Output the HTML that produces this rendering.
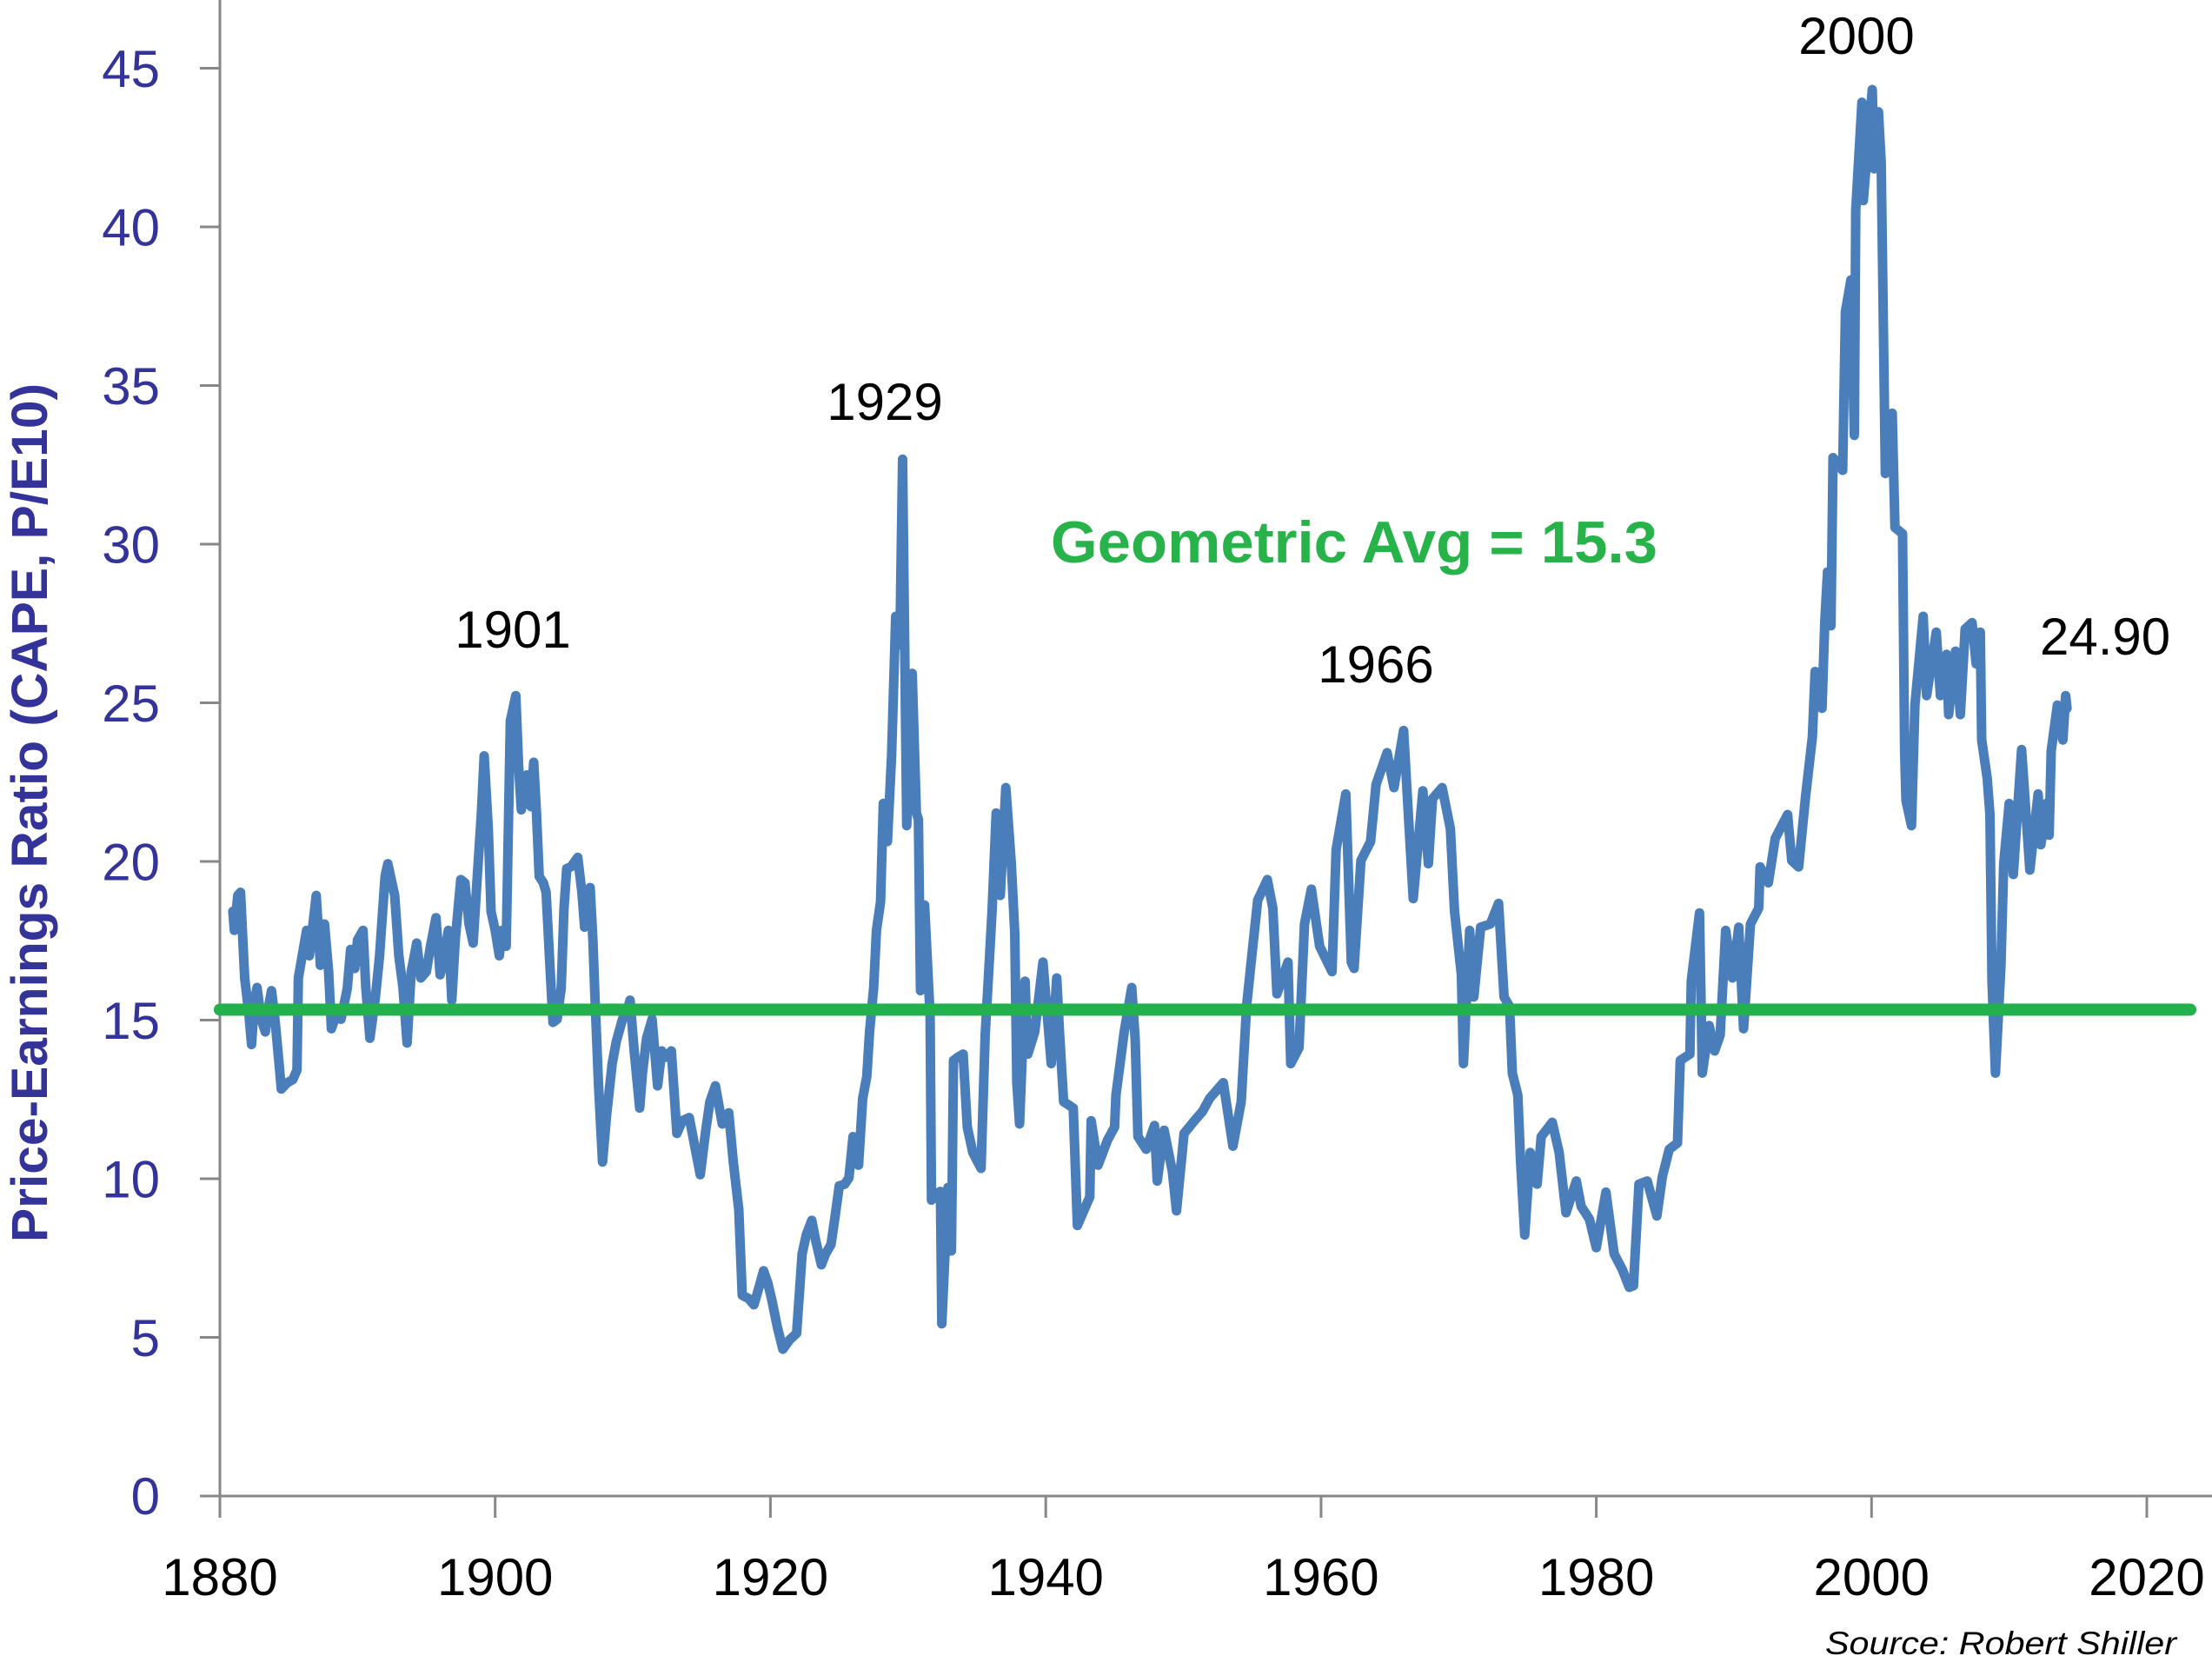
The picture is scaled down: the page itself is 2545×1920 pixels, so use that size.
<!DOCTYPE html>
<html>
<head>
<meta charset="utf-8">
<style>
  html, body { margin:0; padding:0; background:#ffffff; }
  svg { display:block; }
</style>
</head>
<body>
<svg xmlns="http://www.w3.org/2000/svg" width="2545" height="1920" viewBox="0 0 2545 1920">
  <rect x="0" y="0" width="2545" height="1920" fill="#ffffff"/>

  <!-- axes -->
  <g stroke="#878787" stroke-width="3" fill="none">
    <line x1="253" y1="0" x2="253" y2="1722"/>
    <line x1="230" y1="1721" x2="2545" y2="1721"/>
    <!-- y ticks -->
    <line x1="230" y1="1538.5" x2="253" y2="1538.5"/>
    <line x1="230" y1="1356" x2="253" y2="1356"/>
    <line x1="230" y1="1173.5" x2="253" y2="1173.5"/>
    <line x1="230" y1="991" x2="253" y2="991"/>
    <line x1="230" y1="808.5" x2="253" y2="808.5"/>
    <line x1="230" y1="626" x2="253" y2="626"/>
    <line x1="230" y1="443.5" x2="253" y2="443.5"/>
    <line x1="230" y1="261" x2="253" y2="261"/>
    <line x1="230" y1="78.5" x2="253" y2="78.5"/>
    <!-- x ticks -->
    <line x1="253" y1="1721" x2="253" y2="1746"/>
    <line x1="569.7" y1="1721" x2="569.7" y2="1746"/>
    <line x1="886.4" y1="1721" x2="886.4" y2="1746"/>
    <line x1="1203.2" y1="1721" x2="1203.2" y2="1746"/>
    <line x1="1519.9" y1="1721" x2="1519.9" y2="1746"/>
    <line x1="1836.6" y1="1721" x2="1836.6" y2="1746"/>
    <line x1="2153.3" y1="1721" x2="2153.3" y2="1746"/>
    <line x1="2470" y1="1721" x2="2470" y2="1746"/>
  </g>

  <!-- y tick labels -->
  <g font-family="'Liberation Sans', sans-serif" font-size="60" fill="#333399" text-anchor="end">
    <text x="184" y="1742">0</text>
    <text x="184" y="1560">5</text>
    <text x="184" y="1377.5">10</text>
    <text x="184" y="1195">15</text>
    <text x="184" y="1012.5">20</text>
    <text x="184" y="830">25</text>
    <text x="184" y="647.5">30</text>
    <text x="184" y="465">35</text>
    <text x="184" y="282.5">40</text>
    <text x="184" y="100">45</text>
  </g>

  <!-- x tick labels -->
  <g font-family="'Liberation Sans', sans-serif" font-size="60" fill="#000000" text-anchor="middle">
    <text x="253" y="1835">1880</text>
    <text x="569.7" y="1835">1900</text>
    <text x="886.4" y="1835">1920</text>
    <text x="1203.2" y="1835">1940</text>
    <text x="1519.9" y="1835">1960</text>
    <text x="1836.6" y="1835">1980</text>
    <text x="2153.3" y="1835">2000</text>
    <text x="2470" y="1835">2020</text>
  </g>

  <!-- y axis title -->
  <text transform="translate(54 1429) rotate(-90)" font-family="'Liberation Sans', sans-serif" font-weight="bold" font-size="58" fill="#333399" textLength="988" lengthAdjust="spacingAndGlyphs">Price-Earnings Ratio (CAPE, P/E10)</text>

  <!-- CAPE series -->
  <polyline transform="translate(253 1720) scale(15.836 -36.5)" vector-effect="non-scaling-stroke"
    fill="none" stroke="#4A7EBB" stroke-width="11" stroke-linejoin="round" stroke-linecap="round"
    points="
0.94,18.4 1.05,17.8 1.3,18.9 1.5,19.0 1.8,16.3 2.1,15.2 2.3,14.2 2.5,15.5 2.7,16.0 3.0,15.0 3.3,14.6 3.5,15.3 3.75,15.9 4.0,15.0 4.3,13.6 4.46,12.8 4.9,13.0 5.3,13.1 5.6,13.4 5.7,16.3 5.9,16.8 6.3,17.8 6.5,17.0 7.0,18.9 7.3,16.7 7.6,18.0 7.9,16.5 8.1,14.7 8.5,15.2 8.8,15.0 9.25,15.96 9.5,17.2 9.8,16.6 10.0,17.5 10.4,17.8 10.6,16.0 10.9,14.4 11.3,15.7 11.6,17.0 12.0,19.5 12.2,19.9 12.5,19.3 12.7,18.9 13.0,17.0 13.3,16.0 13.6,14.25 13.9,16.5 14.3,17.4 14.6,16.3 15.0,16.5 15.3,17.3 15.7,18.2 16.0,16.4 16.3,17.0 16.6,17.8 16.85,15.6 17.1,17.5 17.5,19.4 17.8,19.3 18.1,18.0 18.4,17.4 18.7,19.5 19.0,21.5 19.2,23.3 19.5,21.0 19.7,18.4 20.0,17.8 20.3,17.0 20.5,17.8 20.8,17.3 21.0,22.0 21.1,24.4 21.5,25.2 21.7,23.0 21.9,21.6 22.3,22.7 22.6,21.7 22.8,23.1 23.0,21.5 23.2,19.5 23.5,19.3 23.7,19.0 24.0,16.5 24.2,14.9 24.5,15.0 24.8,16.0 25.0,18.5 25.2,19.75 25.5,19.8 26.0,20.1 26.3,19.0 26.5,17.9 26.9,19.15 27.1,17.5 27.25,15.7 27.5,13.0 27.8,10.5 28.1,12.0 28.5,13.6 28.8,14.3 29.25,15.0 29.6,15.3 29.8,15.6 30.1,14.0 30.5,12.2 30.7,13.3 31.0,14.4 31.4,15.0 31.8,12.9 32.1,14.0 32.4,13.8 32.8,14.0 33.2,11.4 33.6,11.8 34.1,11.9 34.5,11.0 34.9,10.1 35.3,11.5 35.6,12.4 36.0,12.9 36.5,11.7 36.97,12.05 37.3,10.5 37.7,9.0 37.95,6.3 38.4,6.2 38.8,6.0 39.2,6.6 39.5,7.07 39.8,6.7 40.1,6.15 40.5,5.3 40.9,4.6 41.4,4.9 41.9,5.1 42.3,7.6 42.6,8.2 43.0,8.66 43.3,8.0 43.7,7.26 44.0,7.6 44.4,7.9 44.7,8.8 45.0,9.75 45.4,9.8 45.7,10.0 46.0,11.3 46.4,10.4 46.7,12.5 47.0,13.2 47.2,14.6 47.5,16.0 47.7,17.8 48.0,18.7 48.2,21.8 48.5,20.6 48.8,23.3 49.1,27.7 49.4,26.8 49.6,32.65 49.9,21.1 50.1,24.0 50.3,25.9 50.6,21.5 50.75,21.3 50.9,15.9 51.2,18.6 51.6,15.1 51.7,9.3 52.0,9.5 52.35,9.57 52.45,5.4 52.9,9.7 53.15,7.7 53.3,13.7 53.6,13.8 54.0,13.9 54.3,11.6 54.7,10.8 55.3,10.3 55.6,14.5 55.8,16.05 56.1,18.4 56.4,21.5 56.7,18.9 57.1,22.3 57.5,19.9 57.75,17.7 57.9,13.0 58.1,11.7 58.5,16.2 58.7,13.9 59.2,14.6 59.8,16.8 60.4,13.6 60.8,16.3 61.0,14.6 61.3,12.4 62.0,12.2 62.3,8.5 62.8,9.0 63.2,9.4 63.3,11.8 63.8,10.4 64.5,11.2 65.0,11.6 65.1,12.6 65.7,14.6 66.25,16.0 66.5,14.35 66.7,11.3 67.3,10.9 67.9,11.65 68.1,9.9 68.6,11.5 69.2,10.2 69.5,8.96 70.05,11.4 70.8,11.8 71.4,12.1 71.9,12.5 72.9,13.0 73.6,11.0 74.2,12.4 74.6,15.45 74.9,16.7 75.4,18.75 76.1,19.4 76.5,18.5 76.8,15.8 77.6,16.8 77.8,13.6 78.4,14.1 78.8,18.0 79.3,19.1 79.9,17.3 80.8,16.5 81.1,20.35 81.8,22.1 82.2,16.8 82.4,16.6 82.9,20.0 83.6,20.6 84.0,22.4 84.8,23.4 85.3,22.3 86.0,24.1 86.3,21.8 86.7,18.8 87.4,22.2 87.8,19.9 88.1,21.95 88.8,22.3 89.4,21.0 89.7,18.4 90.2,16.4 90.35,13.6 90.8,17.8 91.1,15.7 91.6,17.9 92.3,18.0 92.9,18.65 93.3,15.7 93.7,15.4 93.9,13.3 94.3,12.6 94.5,10.5 94.8,8.2 95.2,10.8 95.7,9.8 96.0,11.3 96.8,11.75 97.3,10.8 97.8,8.9 98.55,9.9 98.9,9.1 99.5,8.7 100.0,7.8 100.7,9.55 101.3,7.6 101.9,7.1 102.4,6.55 102.7,6.6 103.1,9.8 103.7,9.9 104.4,8.8 104.8,10.04 105.3,10.9 105.9,11.1 106.1,13.7 106.8,13.9 106.9,16.2 107.5,18.35 107.7,13.3 108.2,14.8 108.6,14.0 109.0,14.5 109.4,17.8 109.9,16.3 110.35,17.9 110.7,14.7 111.2,18.0 111.8,18.5 111.9,19.8 112.5,19.3 113.0,20.7 113.9,21.45 114.2,20.0 114.7,19.8 115.2,22.0 115.7,23.9 115.9,25.96 116.4,24.8 116.6,27.5 116.8,29.1 117.05,27.4 117.2,32.7 117.9,32.3 118.1,37.3 118.5,38.3 118.75,33.4 118.85,40.5 119.3,43.9 119.4,40.8 120.05,44.3 120.2,41.8 120.5,43.6 120.7,42.0 121.0,32.2 121.5,34.1 121.7,30.5 122.25,30.3 122.4,23.5 122.5,21.9 122.9,21.1 123.15,24.9 123.75,27.7 124.0,25.2 124.7,27.2 125.0,25.2 125.45,26.5 125.6,24.6 126.1,26.6 126.45,24.6 126.8,27.3 127.3,27.5 127.6,26.2 127.9,27.2 128.0,23.8 128.4,22.6 128.6,21.45 128.75,16.2 129.0,13.3 129.4,16.7 129.6,19.9 130.0,21.8 130.3,19.56 130.9,23.5 131.5,19.7 132.1,22.1 132.3,20.5 132.7,21.8 132.9,20.8 133.05,23.45 133.5,24.9 133.9,23.8 134.1,25.2 134.2,24.8
"/>

  <!-- geometric average line -->
  <line x1="253" y1="1161.5" x2="2520" y2="1161.5" stroke="#22B14C" stroke-width="14" stroke-linecap="round"/>

  <!-- annotations -->
  <g font-family="'Liberation Sans', sans-serif" font-size="60" fill="#000000">
    <text x="590" y="745" text-anchor="middle">1901</text>
    <text x="1018" y="483" text-anchor="middle">1929</text>
    <text x="1583" y="785" text-anchor="middle">1966</text>
    <text x="2136" y="62" text-anchor="middle">2000</text>
    <text x="2347" y="753">24.90</text>
  </g>

  <text x="1209" y="647" font-family="'Liberation Sans', sans-serif" font-weight="bold" font-size="68" fill="#27B24A" textLength="698" lengthAdjust="spacingAndGlyphs">Geometric Avg = 15.3</text>

  <text x="2100" y="1903" font-family="'Liberation Sans', sans-serif" font-style="italic" font-size="37" fill="#000000" textLength="404" lengthAdjust="spacingAndGlyphs">Source: Robert Shiller</text>
</svg>
</body>
</html>
